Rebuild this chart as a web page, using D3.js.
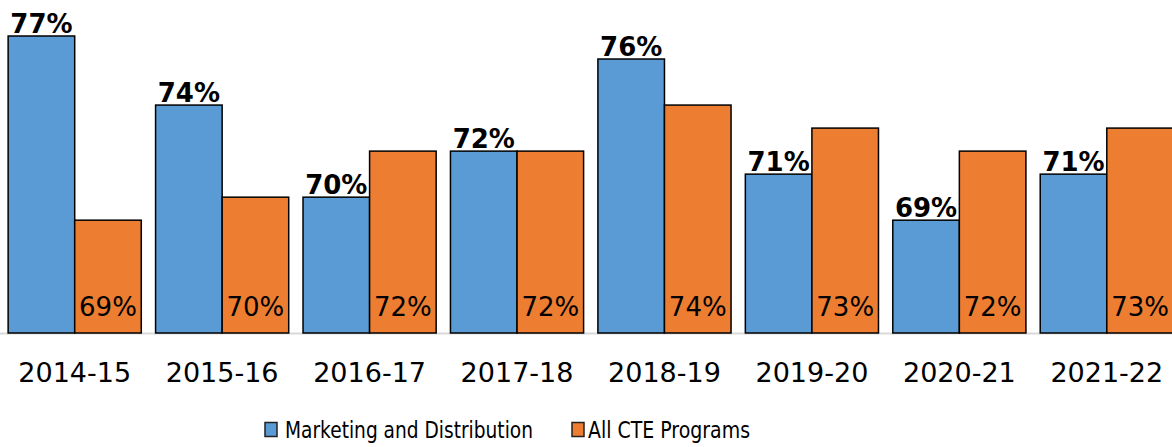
<!DOCTYPE html>
<html><head><meta charset="utf-8">
<script src="https://cdn.jsdelivr.net/npm/d3@7"></script>
<style>body{margin:0;background:#fff}svg{display:block}</style>
</head><body>
<svg id="c" width="1172" height="447"></svg>
<script>
const categories = ["2014-15","2015-16","2016-17","2017-18","2018-19","2019-20","2020-21","2021-22"];
const marketing = [77,74,70,72,76,71,69,71];
const allCTE = [69,70,72,72,74,73,72,73];
const seriesNames = ["Marketing and Distribution","All CTE Programs"];
const colors = ["#5B9BD5","#ED7D31"];

const svg = d3.select("#c");
const baseY = 333;
const x = d3.scaleBand().domain(categories).range([1.5, 1180]).paddingInner(0.097).paddingOuter(0.045);
const xs = d3.scaleBand().domain([0,1]).range([0, x.bandwidth()]);
const y = d3.scaleLinear().domain([64.1, 77]).range([baseY, 36]);

const font = "'DejaVu Sans', sans-serif";

svg.append("line").attr("x1",0).attr("x2",1172).attr("y1",baseY+0.5).attr("y2",baseY+0.5)
  .attr("stroke","#d9d9d9").attr("stroke-width",2);

const g = svg.append("g");
categories.forEach((c,i)=>{
  [marketing[i], allCTE[i]].forEach((v,s)=>{
    g.append("rect").attr("x", x(c)+xs(s)).attr("y", y(v)).attr("width", xs.bandwidth())
      .attr("height", baseY - y(v)).attr("fill", colors[s]).attr("stroke","#000").attr("stroke-width",1.5);
  });
  g.append("text").attr("x", x(c)+xs(0)+xs.bandwidth()/2).attr("y", y(marketing[i])-3)
    .attr("text-anchor","middle").attr("font-family",font).attr("font-weight","bold")
    .attr("font-size",26).attr("fill","#000").text(marketing[i]+"%");
  g.append("text").attr("x", x(c)+xs(1)+xs.bandwidth()/2).attr("y", 316)
    .attr("text-anchor","middle").attr("font-family",font)
    .attr("font-size",26).attr("fill","#000").text(allCTE[i]+"%");
});

const xAxis = d3.axisBottom(x).tickSize(0).tickPadding(0);
const ax = svg.append("g").attr("transform",`translate(0,${baseY})`).call(xAxis);
ax.select(".domain").remove();
ax.selectAll("text").attr("font-family",font).attr("font-size",27).attr("fill","#000")
  .attr("dy",null).attr("y",49);

const legend = svg.append("g");
const legItems = [{x:265, tx:285, w:248},{x:572, tx:588, w:162}];
seriesNames.forEach((n,i)=>{
  legend.append("rect").attr("x",legItems[i].x).attr("y",422.5).attr("width",12).attr("height",14)
    .attr("fill",colors[i]).attr("stroke","#222").attr("stroke-width",1.5);
  legend.append("text").attr("x",legItems[i].tx).attr("y",438).attr("font-family",font)
    .attr("font-size",23).attr("fill","#000")
    .attr("textLength",legItems[i].w).attr("lengthAdjust","spacingAndGlyphs").text(n);
});
</script>
</body></html>
